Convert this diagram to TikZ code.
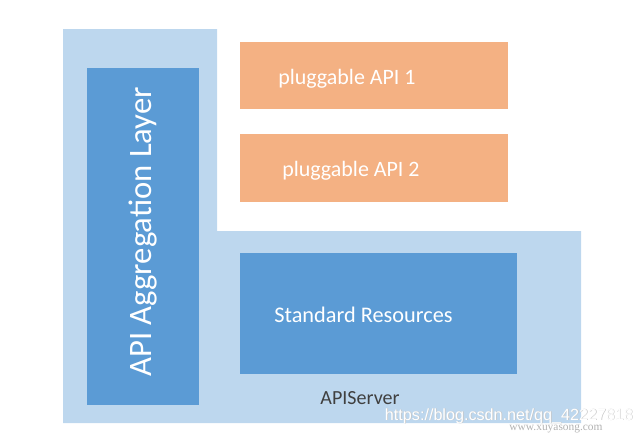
\documentclass[tikz,border=0pt]{standalone}
\usepackage{fontspec}
\setmainfont{Carlito}
\newfontfamily\markfont{Liberation Sans}
\newfontfamily\smallmarkfont{Liberation Serif}
\usetikzlibrary{positioning}

\definecolor{serverblue}{HTML}{BDD7EE}
\definecolor{layerblue}{HTML}{5B9BD5}
\definecolor{pluginorange}{HTML}{F4B183}
\definecolor{servertext}{HTML}{404040}

\tikzset{
    layerbox/.style={fill=layerblue, draw=none, inner sep=0pt, anchor=north west},
    pluginbox/.style={fill=pluginorange, draw=none, inner sep=0pt, anchor=north west},
    boxtext/.style={text=white, font=\fontsize{12.5}{15}\selectfont, inner sep=0pt},
    marktext/.style={font=\markfont\fontsize{9.2}{11}\selectfont, inner sep=0pt}
}

\begin{document}
\begin{tikzpicture}[x=0.02cm,y=-0.02cm]
    \useasboundingbox (0,0) rectangle (641,436);

    % the APIServer, an L shape round the boxes
    \fill[serverblue] (63,29) -- (217,29) -- (217,231) -- (581,231)
        -- (581,423) -- (63,423) -- cycle;

    % aggregation layer, standing on its side
    \node[layerbox, minimum width=2.24cm, minimum height=6.74cm] (agg) at (87,68) {};
    \node[boxtext, rotate=90, font=\fontsize{18.6}{21}\selectfont] (aggtext)
        at ([yshift=0.1cm]agg.center) {API Aggregation Layer};

    % the two pluggable APIs
    \node[pluginbox, minimum width=5.36cm, minimum height=1.34cm] (api1) at (240,42) {};
    \node[boxtext, anchor=west] (api1text) at ([xshift=0.76cm,yshift=-0.05cm]api1.west) {pluggable API 1};
    %
    \node[pluginbox, minimum width=5.36cm, minimum height=1.36cm] (api2) at (240,134) {};
    \node[boxtext, anchor=west] (api2text) at ([xshift=0.84cm,yshift=-0.05cm]api2.west) {pluggable API 2};

    % standard resources
    \node[layerbox, minimum width=5.54cm, minimum height=2.42cm] (std) at (240,253) {};
    \node[boxtext, anchor=west, font=\fontsize{12.7}{15}\selectfont] (stdtext)
        at ([xshift=0.68cm,yshift=-0.02cm]std.west) {Standard Resources};

    \node[text=servertext, font=\fontsize{11.4}{13}\selectfont, inner sep=0pt]
        (servertext) at (360,398) {APIServer};

    % watermark, a grey shadow under white letters
    \node[marktext, text=gray!45] (markshadow) at ([xshift=0.4pt,yshift=-0.4pt]509,416) {https://blog.csdn.net/qq\_42227818};
    \node[marktext, text=white] (mark) at (509,416) {https://blog.csdn.net/qq\_42227818};
    \node[text=gray!60, font=\smallmarkfont\fontsize{6.5}{8}\selectfont, inner sep=0pt]
        (site) at (556,429) {www.xuyasong.com};
\end{tikzpicture}
\end{document}
